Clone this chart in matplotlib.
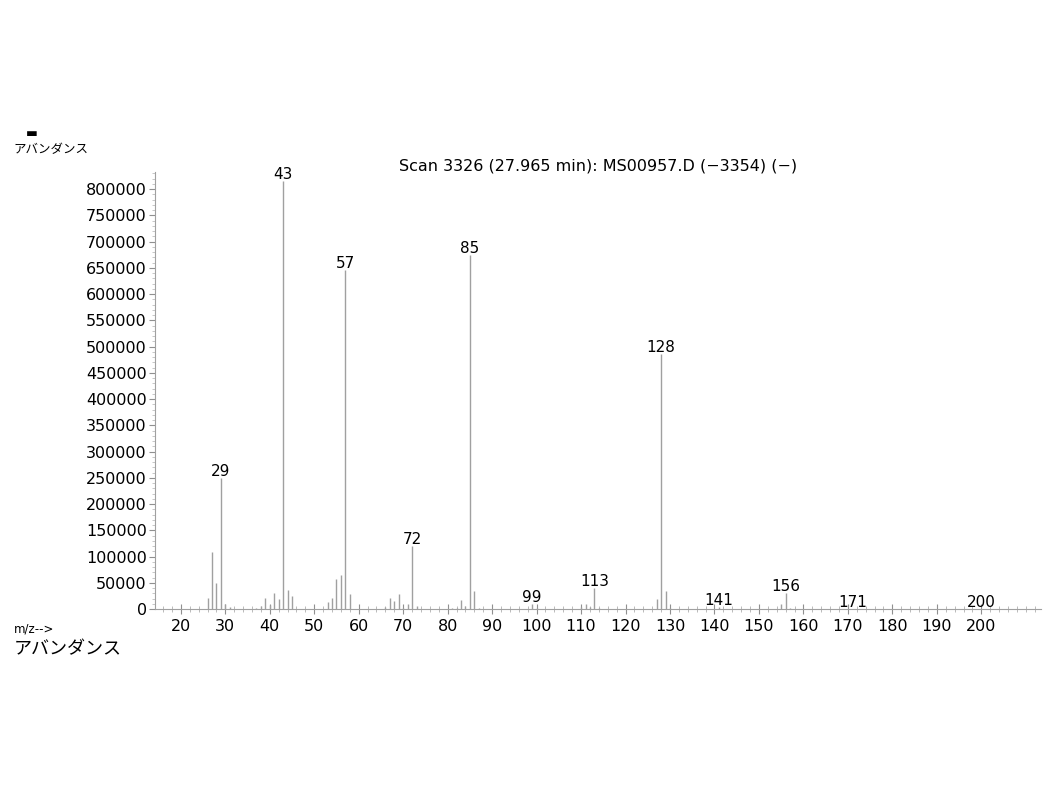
import matplotlib.pyplot as plt
from matplotlib.ticker import MultipleLocator

plt.rcParams['font.family'] = ['DejaVu Sans', 'Noto Sans CJK JP']

# m/z and abundance
mz = [26, 27, 28, 29, 30, 31, 37, 38, 39, 40, 41, 42, 43, 44, 45,
      53, 54, 55, 56, 57, 58, 66, 67, 68, 69, 70, 71, 72, 73,
      81, 82, 83, 84, 85, 86, 87, 99, 100, 110, 111, 112, 113, 114,
      127, 128, 129, 130, 141, 155, 156, 157, 171, 192, 200]
abund = [21000, 108000, 50000, 250000, 10000, 4000, 2000, 6000, 22000, 7000,
         31000, 20000, 815000, 37000, 25000,
         14000, 21000, 57000, 65000, 645000, 29000, 4000, 21000, 15000, 29000,
         3000, 9000, 120000, 5000,
         2000, 3000, 17000, 5000, 675000, 34000, 2000, 9000, 1500,
         4000, 10000, 4000, 40000, 2000,
         19000, 485000, 34000, 3000, 4000, 9000, 30000, 2000, 1000, 500, 500]
labelled = [29, 43, 57, 72, 85, 99, 113, 128, 141, 156, 171, 200]
title = "Scan 3326 (27.965 min): MS00957.D (\u22123354) (\u2212)"

fig = plt.figure(figsize=(10.64, 7.9), dpi=100)
ax = fig.add_axes([0.1457, 0.229, 0.833, 0.553])

ax.vlines(mz, 0, abund, color='#a0a0a0', linewidth=1.0)
for m, a in zip(mz, abund):
    if m in labelled:
        ax.text(m, a - 2000, str(m), ha='center', va='bottom', fontsize=11)

ax.set_xlim(14.2, 213.5)
ax.set_ylim(0, 832000)
ax.xaxis.set_minor_locator(MultipleLocator(2))
ax.yaxis.set_major_locator(MultipleLocator(50000))
ax.yaxis.set_minor_locator(MultipleLocator(10000))
ax.set_xticks(range(20, 201, 10))
ax.tick_params(axis='x', which='major', direction='inout', length=7, width=0.8,
               color='#909090', labelsize=11.5)
ax.tick_params(axis='x', which='minor', direction='inout', length=4, width=0.6,
               color='#b0b0b0')
ax.tick_params(axis='y', which='major', direction='out', length=4, width=0.8,
               color='#909090', labelsize=11.5, pad=2)
ax.tick_params(axis='y', which='minor', direction='out', length=2, width=0.5,
               color='#b0b0b0')
for s in ['top', 'right']:
    ax.spines[s].set_visible(False)
for s in ['left', 'bottom']:
    ax.spines[s].set_color('#a0a0a0')
    ax.spines[s].set_linewidth(0.8)

fig.text(0.562, 0.781, title, ha='center', va='bottom', fontsize=11.5)
fig.text(0.013, 0.806, "アバンダンス", fontsize=9, family=['Noto Sans CJK JP'])
fig.text(0.024, 0.826, "\u25ac", fontsize=9)
fig.text(0.013, 0.199, "m/z-->", fontsize=8.5)
fig.text(0.013, 0.172, "アバンダンス", fontsize=13, family=['Noto Sans CJK JP'])

fig.savefig("out.png", dpi=100)
